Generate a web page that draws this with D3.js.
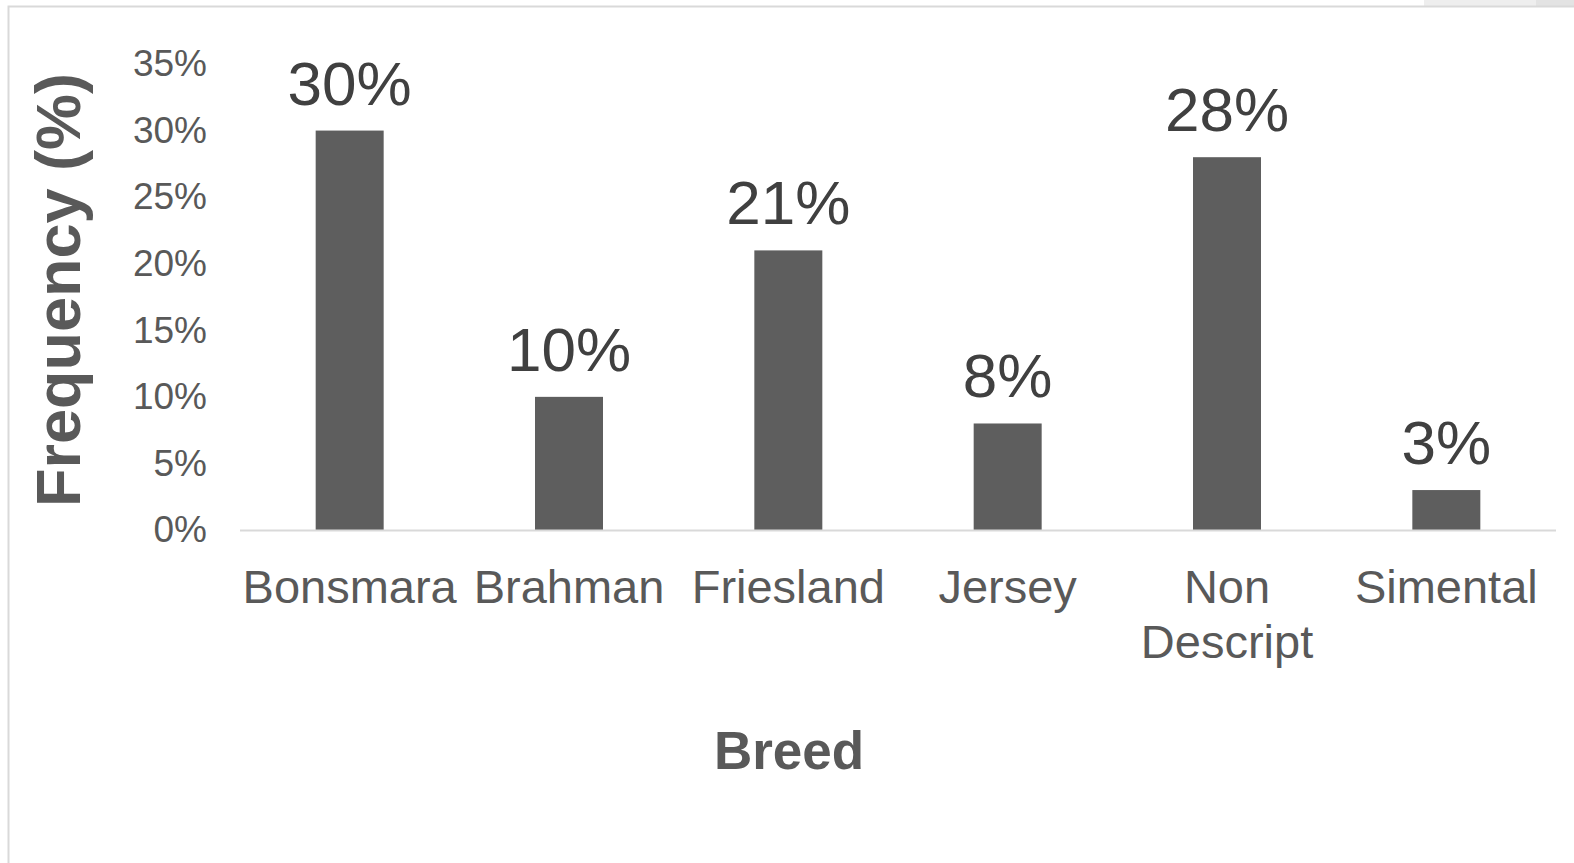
<!DOCTYPE html>
<html>
<head>
<meta charset="utf-8">
<script src="https://cdn.jsdelivr.net/npm/d3@7"></script>
<style>
  html, body { margin: 0; padding: 0; background: #ffffff; }
  svg { display: block; font-family: "Liberation Sans", Arial, Helvetica, sans-serif; }
</style>
</head>
<body>
<svg id="chart" width="1574" height="863"></svg>
<script>
// Breed frequencies
const breeds = ["Bonsmara", "Brahman", "Friesland", "Jersey", "Non Descript", "Simental"];
const breedLines = [["Bonsmara"], ["Brahman"], ["Friesland"], ["Jersey"], ["Non", "Descript"], ["Simental"]];
const frequency = [0.30, 0.10, 0.21, 0.08, 0.28, 0.03];
const yTicks = [0, 0.05, 0.10, 0.15, 0.20, 0.25, 0.30, 0.35];
const yTitle = "Frequency (%)";
const xTitle = "Breed";

const svg = d3.select("#chart");

// chart area frame
svg.append("rect")
  .attr("x", 1424).attr("y", 0).attr("width", 150).attr("height", 6)
  .attr("fill", "#eeeeee");
svg.append("rect")
  .attr("x", 1536).attr("y", 0).attr("width", 38).attr("height", 6)
  .attr("fill", "#e3e3e3");
svg.append("rect")
  .attr("x", 8.5).attr("y", 6.5).attr("width", 1600).attr("height", 900)
  .attr("fill", "#ffffff").attr("stroke", "#d9d9d9").attr("stroke-width", 2);

const x = d3.scaleBand()
  .domain(breeds)
  .range([240, 1556])
  .paddingInner(0.69)
  .paddingOuter(0.345);

const y = d3.scaleLinear()
  .domain([0, 0.35])
  .range([530, 64]);

// y axis labels
const yAxis = svg.append("g")
  .attr("transform", "translate(240,0)")
  .call(d3.axisLeft(y).tickValues(yTicks).tickFormat(d3.format(".0%")).tickSize(0).tickPadding(33));
yAxis.select(".domain").remove();
yAxis.selectAll("text")
  .attr("fill", "#595959")
  .style("font-size", "37px")
  .style("font-family", "'Liberation Sans', Arial, sans-serif");

// bars
svg.append("g").selectAll("rect")
  .data(frequency)
  .join("rect")
  .attr("x", (d, i) => x(breeds[i]))
  .attr("y", d => y(d))
  .attr("width", x.bandwidth())
  .attr("height", d => y(0) - y(d))
  .attr("fill", "#5e5e5e");

// baseline
svg.append("line")
  .attr("x1", 240).attr("x2", 1556)
  .attr("y1", y(0) + 0.5).attr("y2", y(0) + 0.5)
  .attr("stroke", "#d9d9d9").attr("stroke-width", 2);

// value labels
svg.append("g").selectAll("text")
  .data(frequency)
  .join("text")
  .attr("x", (d, i) => x(breeds[i]) + x.bandwidth() / 2)
  .attr("y", d => y(d) - 26)
  .attr("text-anchor", "middle")
  .attr("fill", "#404040")
  .style("font-size", "62px")
  .text(d => d3.format(".0%")(d));

// category labels
const cat = svg.append("g").selectAll("text")
  .data(breeds)
  .join("text")
  .attr("x", d => x(d) + x.bandwidth() / 2)
  .attr("y", 603)
  .attr("text-anchor", "middle")
  .attr("fill", "#595959")
  .style("font-size", "47px");
cat.selectAll("tspan")
  .data((d, i) => breedLines[i])
  .join("tspan")
  .attr("x", function () { return d3.select(this.parentNode).attr("x"); })
  .attr("dy", (d, i) => i === 0 ? 0 : 55)
  .text(d => d);

// axis titles
svg.append("text")
  .attr("transform", "translate(80,290) rotate(-90)")
  .attr("text-anchor", "middle")
  .attr("fill", "#595959")
  .style("font-size", "63px")
  .style("font-weight", "bold")
  .text(yTitle);

svg.append("text")
  .attr("x", 789)
  .attr("y", 769)
  .attr("text-anchor", "middle")
  .attr("fill", "#595959")
  .style("font-size", "53px")
  .style("font-weight", "bold")
  .text(xTitle);
</script>
</body>
</html>
